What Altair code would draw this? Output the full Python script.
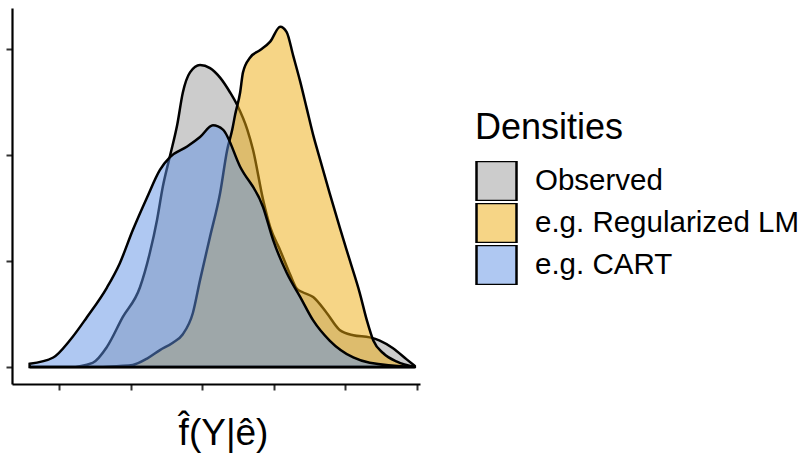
import altair as alt
import pandas as pd

# Series names and colours
series_names = ["Observed", "e.g. Regularized LM", "e.g. CART"]
series_colors = ["#999999", "#EDAB0D", "#5F91E5"]
FILL_ALPHA = 0.5

# Observed density (x in tick units, density in tick units)
obs_x = [-0.41, 0.15, 0.47, 0.67, 0.89, 1.13, 1.27, 1.37, 1.45, 1.55, 1.65, 1.73, 1.83, 1.97,
         2.11, 2.25, 2.39, 2.49, 2.63, 2.71, 2.85, 2.95, 3.09, 3.23, 3.32, 3.39, 3.55, 3.74,
         3.92, 4.11, 4.34, 4.48, 4.66, 4.86, 4.97]
obs_y = [0.0, 0.0, 0.04, 0.19, 0.47, 0.75, 1.08, 1.39, 1.70, 1.99, 2.28, 2.59, 2.78, 2.85,
         2.82, 2.73, 2.59, 2.47, 2.24, 2.05, 1.58, 1.32, 1.10, 0.87, 0.74, 0.71, 0.66, 0.51,
         0.35, 0.30, 0.28, 0.25, 0.18, 0.07, 0.01]

# Regularized LM density
lm_x = [-0.41, 0.57, 0.85, 1.03, 1.23, 1.41, 1.59, 1.73, 1.87, 1.97, 2.11, 2.25, 2.35, 2.42,
        2.46, 2.53, 2.57, 2.67, 2.81, 2.95, 3.09, 3.18, 3.27, 3.37, 3.46, 3.55, 3.65, 3.78,
        3.92, 4.06, 4.20, 4.30, 4.39, 4.53, 4.72, 4.97]
lm_y = [0.0, 0.0, 0.01, 0.02, 0.08, 0.16, 0.23, 0.31, 0.51, 0.82, 1.23, 1.64, 2.05, 2.24,
        2.38, 2.59, 2.78, 2.92, 2.99, 3.07, 3.21, 3.16, 2.94, 2.69, 2.44, 2.19, 1.95, 1.64,
        1.32, 1.01, 0.70, 0.44, 0.25, 0.13, 0.05, 0.0]

# CART density
cart_x = [-0.41, -0.08, 0.15, 0.39, 0.67, 0.85, 1.03, 1.23, 1.41, 1.55, 1.79, 1.97, 2.15,
          2.29, 2.53, 2.85, 2.99, 3.18, 3.37, 3.55, 3.78, 4.11, 4.34, 4.97]
cart_y = [0.03, 0.09, 0.25, 0.47, 0.75, 0.98, 1.29, 1.60, 1.86, 1.98, 2.08, 2.17, 2.28,
          2.24, 1.89, 1.51, 1.20, 0.89, 0.66, 0.44, 0.25, 0.09, 0.04, 0.0]

x_ticks = [0, 1, 2, 3, 4, 5]
y_ticks = [0, 1, 2, 3]

FONT = "Liberation Sans"


def blend_on_white(hex_color, alpha):
    h = hex_color.lstrip("#")
    rgb = [int(h[i:i + 2], 16) for i in (0, 2, 4)]
    out = [round(c * alpha + 255 * (1 - alpha)) for c in rgb]
    return "#" + "".join(f"{c:02X}" for c in out)


legend_colors = [blend_on_white(c, FILL_ALPHA) for c in series_colors]

x_enc = alt.X("x:Q", scale=alt.Scale(domain=[-0.656, 5.042], nice=False, zero=False),
              axis=alt.Axis(values=x_ticks, labels=False, grid=False, title="f\u0302(Y|\u00ea)",
                            titleFontSize=37, titleFont=FONT, titleFontWeight="normal",
                            titleColor="black", titlePadding=24, titleX=211,
                            domainColor="black", domainWidth=2.2, tickColor="#333333",
                            tickWidth=2, tickSize=6))
y_enc = alt.Y("d:Q", stack=None, scale=alt.Scale(domain=[-0.16, 3.387], nice=False, zero=False),
              axis=alt.Axis(values=y_ticks, labels=False, grid=False, title=None,
                            domainColor="black", domainWidth=2.2, tickColor="#333333",
                            tickWidth=2, tickSize=6))

layers = []
for name, xs, ys, col in zip(series_names, [obs_x, lm_x, cart_x], [obs_y, lm_y, cart_y],
                             series_colors):
    d = pd.DataFrame({"x": xs, "d": ys})
    layers.append(
        alt.Chart(d).mark_area(
            fill=col, fillOpacity=FILL_ALPHA, stroke="black", strokeWidth=2.5,
            interpolate="monotone"
        ).encode(x=x_enc, y=y_enc)
    )

legend_df = pd.DataFrame({"series": series_names})
legend_layer = alt.Chart(legend_df).mark_square(size=0, opacity=1).encode(
    fill=alt.Fill("series:N", scale=alt.Scale(domain=series_names, range=legend_colors),
                  legend=alt.Legend(title="Densities", orient="none", legendX=463, legendY=103,
                                    titleFontSize=36, titleFont=FONT, titleFontWeight="normal",
                                    titleColor="black", titlePadding=14,
                                    labelFontSize=29.5, labelFont=FONT, labelColor="black",
                                    symbolType="square", symbolSize=1600,
                                    symbolStrokeColor="black", symbolStrokeWidth=2.5,
                                    clipHeight=40,
                                    labelOffset=17, rowPadding=2, labelLimit=400))
)

chart = alt.layer(*layers, legend_layer).properties(
    width=408, height=376,
    autosize=alt.AutoSizeParams(type="none"),
    padding={"left": 12, "top": 8, "right": 379, "bottom": 74},
).configure(background="white").configure_view(stroke=None)

chart.save("out.html", embed_options={"renderer": "svg", "actions": False})
